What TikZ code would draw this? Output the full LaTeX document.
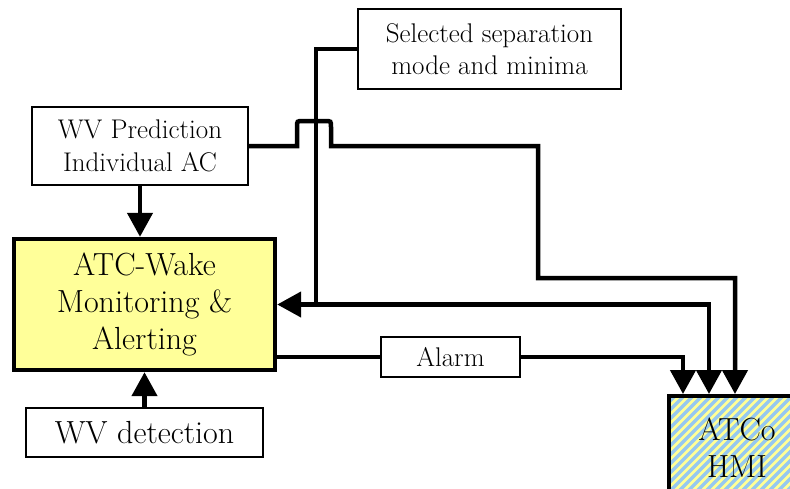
\documentclass[tikz,border=0pt]{standalone}
\usetikzlibrary{arrows.meta}
\definecolor{wakeyellow}{RGB}{255,255,153}
\definecolor{hmiyellow}{RGB}{255,255,150}
\definecolor{hmiblue}{RGB}{150,200,240}
\begin{document}
\begin{tikzpicture}[x=1pt,y=-1pt,
  box/.style={draw, line width=1.4pt, fill=white, inner sep=0pt, align=center,
              font=\rmfamily\fontsize{27}{32.5}\selectfont},
  bigbox/.style={draw, line width=4.4pt, inner sep=0pt, align=center,
              font=\rmfamily\fontsize{32}{37}\selectfont},
  conn/.style={line width=4.5pt},
  arr/.style={conn, -{Triangle[length=24pt,width=25pt]}},
]
\useasboundingbox (0,0) rectangle (790,488);
\clip (0,0) rectangle (790,488);
\fill[white] (0,0) rectangle (790,488);

% input boxes
\node[box, minimum width=263pt, minimum height=80pt] (sel) at (489.5,49)
  {Selected separation\\mode and minima};
\node[box, minimum width=216pt, minimum height=78pt] (pred) at (140,146)
  {WV Prediction\\Individual AC};
\node[box, minimum width=237pt, minimum height=49pt,
      font=\rmfamily\fontsize{32}{37}\selectfont] (det) at (144.5,432.5) {WV detection};

% central function
\node[bigbox, fill=wakeyellow, minimum width=261pt, minimum height=131pt] (wake)
  at (144.5,304.5) {ATC-Wake\\Monitoring \&\\Alerting};

\node[box, minimum width=139pt, minimum height=40pt] (alarm) at (450.5,357) {Alarm};

% controller HMI with striped fill
\begin{scope}
  \clip (667,394) rectangle (810,500);
  \fill[hmiyellow] (667,394) rectangle (810,500);
  \foreach \k in {0,...,32}
    \draw[hmiblue, line width=3.5pt] (530+9*\k,505) -- ++(140,-140);
\end{scope}
\node[bigbox, line width=4pt, minimum width=136pt, minimum height=104pt] (hmi)
  at (737,448) {ATCo\\HMI};

% entry points on the HMI
\coordinate (h1) at (683,394);
\coordinate (h2) at (709,394);
\coordinate (h3) at (735,394);
\coordinate (j) at (316,304.5);

% connectors
\draw[arr] (pred.south) -- (pred.south |- wake.north);
\draw[arr] (det.north) -- (det.north |- wake.south);

\draw[conn] (sel.west) -| (j);
\draw[arr] (j) -- (wake.east);
\draw[arr] (j) -| (h2);

\draw[arr] (pred.east) -- (297,146) -- (297,127) .. controls (297,121) .. (303,121)
  -- (325,121) .. controls (331,121) .. (331,127) -- (331,146)
  -- (538,146) -- (538,278) -- (735,278) -- (h3);

\draw[conn] (alarm.west -| wake.east) -- (alarm.west);
\draw[arr] (alarm.east) -| (h1);
\end{tikzpicture}
\end{document}
